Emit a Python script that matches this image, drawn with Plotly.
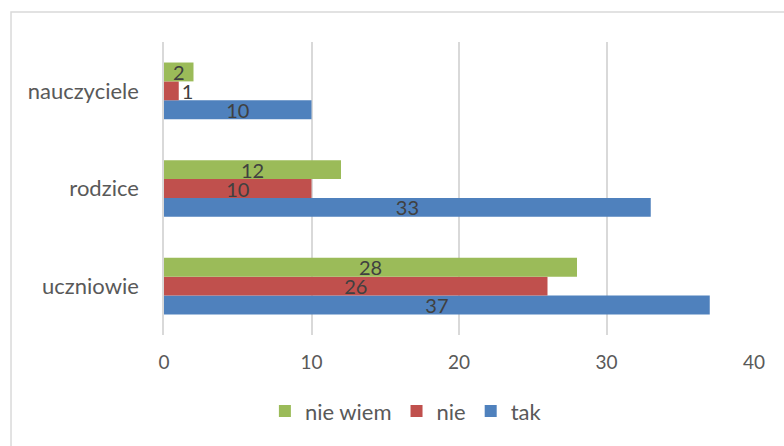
import plotly.graph_objects as go

# Survey answers per respondent group
groups = ["uczniowie", "rodzice", "nauczyciele"]
tak = [37, 33, 10]
nie = [26, 10, 1]
nie_wiem = [28, 12, 2]

series = [
    ("tak", tak, "#4f81bd"),
    ("nie", nie, "#c0504d"),
    ("nie wiem", nie_wiem, "#9bbb59"),
]

FONT = "Lato"
TEXT = "#595959"

fig = go.Figure()
for name, vals, color in series:
    fig.add_trace(go.Bar(
        y=groups, x=vals, name=name, orientation="h",
        marker=dict(color=color, line=dict(width=0)),
        text=[str(v) for v in vals],
        # labels sit centred in the bar; a bar too short for its label gets it just past the end
        textposition=["inside" if v >= 2 else "outside" for v in vals],
        textangle=0,
        insidetextanchor="middle",
        constraintext="none",
        cliponaxis=False,
        insidetextfont=dict(family=FONT, size=20, color="#404040"),
        outsidetextfont=dict(family=FONT, size=20, color="#404040"),
        hoverinfo="skip",
    ))

fig.update_layout(
    width=784, height=446,
    margin=dict(l=164, r=30, t=42, b=111),
    paper_bgcolor="white", plot_bgcolor="white",
    barmode="group", bargap=0.42, bargroupgap=0,
    font=dict(family=FONT, color=TEXT, size=19),
    showlegend=True,
    legend=dict(
        orientation="h", x=0.41, xanchor="center", y=-0.26, yanchor="middle",
        traceorder="reversed", font=dict(family=FONT, size=22, color=TEXT),
        itemwidth=30,
    ),
    xaxis=dict(
        range=[0, 40], dtick=10, showgrid=True, gridcolor="#d9d9d9", gridwidth=1.5,
        zeroline=False, showline=False, ticks="",
        tickfont=dict(family=FONT, size=19, color=TEXT),
        ticklabelstandoff=14,
    ),
    yaxis=dict(
        categoryorder="array", categoryarray=groups,
        showgrid=False, zeroline=False, showline=True, linecolor="#d9d9d9", linewidth=1.5,
        ticks="", tickfont=dict(family=FONT, size=22, color=TEXT),
        ticklabelstandoff=19,
    ),
    shapes=[dict(
        type="rect", xref="paper", yref="paper",
        x0=-0.2593, x1=1.1, y0=-0.45, y1=1.1024,
        line=dict(color="#d9d9d9", width=1.5), fillcolor="rgba(0,0,0,0)", layer="below",
    )],
)

fig.write_html("out.html")
